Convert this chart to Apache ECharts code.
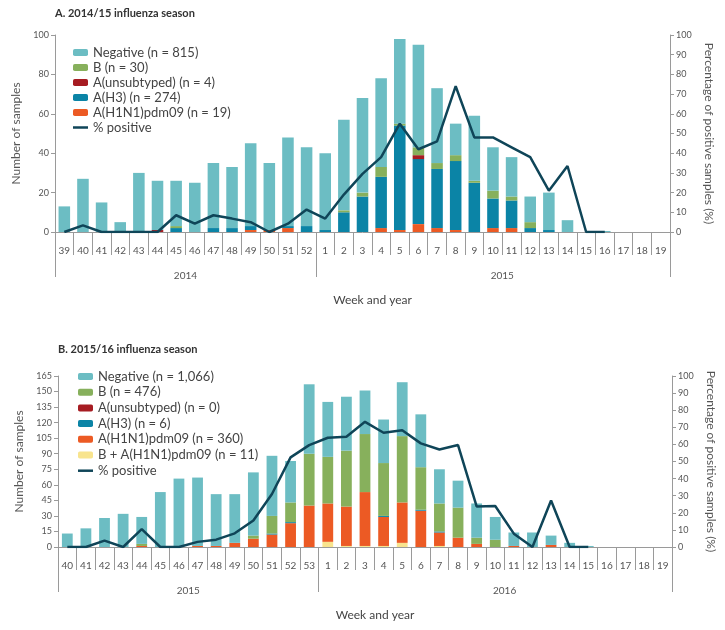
<!DOCTYPE html>
<html lang="en" style="height: 100%">
<head>
    <meta charset="UTF-8">
    <title>Influenza seasons</title>
    <script type="text/javascript" src="https://cdn.jsdelivr.net/npm/echarts@6/dist/echarts.min.js"></script>
</head>
<body style="height: 100%;margin: 0;background:#fff">

<div id="contar" style="width:725px;height:630px"></div>

<script type="text/javascript">
    // 2014/15 season
    weeksA = ['39','40','41','42','43','44','45','46','47','48','49','50','51','52',
              '1','2','3','4','5','6','7','8','9','10','11','12','13','14','15','16','17','18','19'];
    yearsA = ['2014', '2015'];
    h1n1A  = [0,0,0,0,0,0,0,0,0,0,1,1,2,0, 0,0,0,2,1,4,2,1,0,2,2,0,0,0,0,0,0,0,0];
    h3A    = [0,0,0,0,0,0,2,0,2,2,2,0,1,3, 1,10,18,26,53,33,30,35,25,15,14,2,1,0,0,0,0,0,0];
    unsubA = [0,0,0,0,0,1,0,0,0,0,0,0,0,0, 0,0,0,0,0,2,0,0,0,0,0,0,0,0,0,0,0,0,0];
    bA     = [0,0,0,0,0,0,1,0,0,0,0,0,0,0, 0,1,2,5,1,4,3,3,1,4,2,3,0,0,0,0,0,0,0];
    negA   = [13,27,15,5,30,25,23,25,33,31,42,34,45,40, 39,46,48,45,43,52,38,16,33,22,20,13,19,6,0,0.5,0,0,0];
    pctA   = [0,3.4,0,0,0,0,8.5,4.2,8.5,6.8,5,0,4.2,11.4, 6.8,19,29.5,38,55,42,46,74,48,48,43,38,21,33.5,0,0,null,null,null];

    // 2015/16 season
    weeksB = ['40','41','42','43','44','45','46','47','48','49','50','51','52','53',
              '1','2','3','4','5','6','7','8','9','10','11','12','13','14','15','16','17','18','19'];
    yearsB = ['2015', '2016'];
    bh1B   = [0,0,0,0,0,0,0,0,0,0,0,0,0,0, 5,1,1,1,4,0,1,0,0,0,0,0,0,0,0,0,0,0,0];
    h1n1B  = [0,0,0,0,1,0,0,1,1,4,8,12,23,40, 37,38,52,28,39,35,13,9,3,0,1,0,2,0,0,0,0,0,0];
    h3B    = [0,0,0,0,0,0,0,0,0,0,0,1,1,0, 0,0,0,1,0,1,1,0,0,0,0,0,0,0,0,0,0,0,0];
    unsubB = [0,0,0,0,0,0,0,0,0,0,0,0,0,0, 0,0,0,0,0,0,0,0,0,0,0,0,0,0,0,0,0,0,0];
    bB     = [0,0,0,0,2,0,0,0,0,0,3,17,19,50, 45,54,56,51,64,41,27,29,6,7,0,0,0,0,0,0,0,0,0];
    negB   = [13,18,28,32,26,53,66,66,50,47,61,58,40,67, 53,52,42,42,52,51,33,26,33,22,13,14,9,4,1,0,0,0,0];
    pctB   = [0,0,3.7,0,10.5,0,0,3,4.3,8,15.5,31,52.4,59.6, 63.9,64.5,73.2,66.8,68.3,60.6,57,59.6,23.7,24,7.8,0,27.2,0,0,null,null,null,null];

    var colNeg = '#6cbdc3', colB = '#87b05c', colUn = '#a61c22', colH3 = '#0b84a6',
        colH1 = '#ec5a24', colBH1 = '#f8e48e', colLine = '#0f4558';
    var fontFam = 'Lato, "Open Sans", sans-serif';
    var grey = '#9a9a9a', txt = '#555';

    var chart = echarts.init(document.getElementById('contar'));

    function weekAxis(grid, cats) {
        return {
            type: 'category', gridIndex: grid, data: cats, position: 'bottom',
            axisLine: {show: true, lineStyle: {color: grey, width: 1}},
            axisTick: {show: true, length: 23, interval: 0, alignWithLabel: false, lineStyle: {color: grey}},
            axisLabel: {interval: 0, margin: 14, fontSize: 10, color: txt, fontFamily: fontFam},
            splitLine: {show: false}
        };
    }
    function yearAxis(grid, cats, years, band) {
        return {
            type: 'category', gridIndex: grid, data: cats, position: 'bottom', offset: 0,
            name: 'Week and year', nameLocation: 'middle', nameGap: 62,
            nameTextStyle: {fontSize: 12, color: '#444', fontFamily: fontFam, padding: [0, 0, 0, 20]},
            axisLine: {show: false},
            axisTick: {show: true, length: 45, interval: function (i) { return i === 0 || i === 14; }, lineStyle: {color: grey}},
            axisLabel: {
                interval: function (i) { return i === 7 || i === 24; },
                formatter: function (v, i) { return i === 7 ? years[0] : years[1]; },
                margin: 39, fontSize: 10, color: txt, fontFamily: fontFam,
                padding: [0, band, 0, 0]
            },
            splitLine: {show: false}
        };
    }
    function leftAxis(grid, max, step) {
        return {
            type: 'value', gridIndex: grid, min: 0, max: max, interval: step, position: 'left',
            name: 'Number of samples', nameLocation: 'middle', nameGap: 31,
            nameTextStyle: {fontSize: 12, color: txt, fontFamily: fontFam},
            axisLine: {show: true, lineStyle: {color: grey}},
            axisTick: {show: true, length: 4, lineStyle: {color: grey}},
            axisLabel: {fontSize: 9, color: txt, margin: 6, fontFamily: fontFam},
            splitLine: {show: false}
        };
    }
    function rightAxis(grid) {
        return {
            type: 'value', gridIndex: grid, min: 0, max: 100, interval: 10, position: 'right',
            name: 'Percentage of positive samples (%)', nameLocation: 'middle', nameGap: 33, nameRotate: -90,
            nameTextStyle: {fontSize: 12, color: txt, fontFamily: fontFam},
            axisLine: {show: true, lineStyle: {color: grey}},
            axisTick: {show: true, length: 4, lineStyle: {color: grey}},
            axisLabel: {fontSize: 9, color: txt, margin: 6, fontFamily: fontFam},
            splitLine: {show: false}
        };
    }
    function bar(name, data, color, x, y, width) {
        return {
            name: name, type: 'bar', stack: 'st' + x, data: data, xAxisIndex: x, yAxisIndex: y,
            barWidth: width, itemStyle: {color: color}, emphasis: {disabled: true}
        };
    }
    function pctLine(data, x, y) {
        return {
            name: '% positive', type: 'line', data: data, xAxisIndex: x, yAxisIndex: y,
            symbol: 'none', lineStyle: {color: colLine, width: 2.5}, itemStyle: {color: colLine}, z: 5
        };
    }

    var legendText = {fontSize: 13, color: '#444', fontFamily: fontFam};
    // thin bar as legend mark for the line series
    var lineItem = {name: '% positive', icon: 'path://M0,0 M0,2.25 L15,2.25 L15,4.75 L0,4.75 Z M15,7'};

    option = {
        animation: false,
        title: [
            {text: 'A. 2014/15 influenza season', left: 55, top: 8, padding: 0,
             textStyle: {fontSize: 11, fontWeight: 'bold', color: '#333', fontFamily: fontFam}},
            {text: 'B. 2015/16 influenza season', left: 58, top: 344, padding: 0,
             textStyle: {fontSize: 11, fontWeight: 'bold', color: '#333', fontFamily: fontFam}}
        ],
        legend: [
            {left: 73, top: 46, padding: 0, orient: 'vertical', itemWidth: 15, itemHeight: 7, itemGap: 2,
             textStyle: legendText,
             data: ['Negative (n = 815)', 'B (n = 30)', 'A(unsubtyped) (n = 4)', 'A(H3) (n = 274)',
                    'A(H1N1)pdm09 (n = 19)', lineItem]},
            {left: 78, top: 370, padding: 0, orient: 'vertical', itemWidth: 15, itemHeight: 7, itemGap: 2.7,
             textStyle: legendText,
             data: ['Negative (n = 1,066)', 'B (n = 476)', 'A(unsubtyped) (n = 0)', 'A(H3) (n = 6)',
                    'A(H1N1)pdm09 (n = 360)', 'B + A(H1N1)pdm09 (n = 11)', lineItem]}
        ],
        grid: [
            {left: 55, right: 55, top: 35, height: 197},
            {left: 58, right: 53, top: 376, height: 171}
        ],
        xAxis: [
            weekAxis(0, weeksA), yearAxis(0, weeksA, yearsA, 18.6),
            weekAxis(1, weeksB), yearAxis(1, weeksB, yearsB, 18.5)
        ],
        yAxis: [
            leftAxis(0, 100, 20), rightAxis(0),
            leftAxis(1, 165, 15), rightAxis(1)
        ],
        series: [
            bar('A(H1N1)pdm09 (n = 19)', h1n1A, colH1, 0, 0, '62%'),
            bar('A(H3) (n = 274)', h3A, colH3, 0, 0, '62%'),
            bar('A(unsubtyped) (n = 4)', unsubA, colUn, 0, 0, '62%'),
            bar('B (n = 30)', bA, colB, 0, 0, '62%'),
            bar('Negative (n = 815)', negA, colNeg, 0, 0, '62%'),
            pctLine(pctA, 0, 1),

            bar('B + A(H1N1)pdm09 (n = 11)', bh1B, colBH1, 2, 2, '58%'),
            bar('A(H1N1)pdm09 (n = 360)', h1n1B, colH1, 2, 2, '58%'),
            bar('A(H3) (n = 6)', h3B, colH3, 2, 2, '58%'),
            bar('A(unsubtyped) (n = 0)', unsubB, colUn, 2, 2, '58%'),
            bar('B (n = 476)', bB, colB, 2, 2, '58%'),
            bar('Negative (n = 1,066)', negB, colNeg, 2, 2, '58%'),
            pctLine(pctB, 2, 3)
        ]
    };
    chart.setOption(option);
</script>

</body>
</html>
